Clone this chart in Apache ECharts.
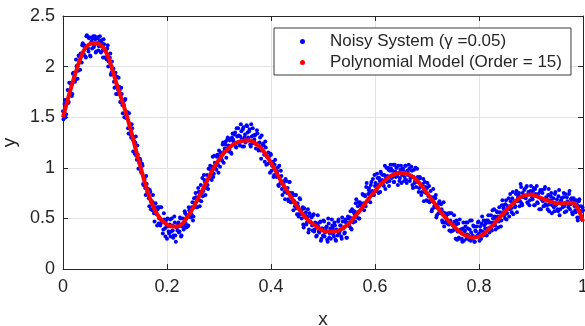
<!DOCTYPE html>
<html><head><meta charset="utf-8">
<script src="https://cdn.jsdelivr.net/npm/echarts/dist/echarts.min.js"></script>
<style>html,body{margin:0;padding:0;background:#fff}#c{width:585px;height:326px}</style>
</head><body><div id="c"></div>
<script>
// Axis settings
const xMin = 0, xMax = 1, xStep = 0.2;
const yMin = 0, yMax = 2.5, yStep = 0.5;
const noisyName = 'Noisy System (\u03b3 =0.05)';
const modelName = 'Polynomial Model (Order = 15)';

// Polynomial model values, x = 0, 0.01, ..., 1
const modelY = [
1.50,1.69,1.87,2.03,2.16,2.22,2.23,2.22,2.17,2.05,
1.88,1.72,1.56,1.38,1.18,0.99,0.81,0.66,0.55,0.48,
0.44,0.42,0.42,0.45,0.52,0.60,0.70,0.80,0.90,1.00,
1.08,1.15,1.20,1.24,1.26,1.27,1.27,1.24,1.20,1.13,
1.05,0.96,0.86,0.78,0.70,0.62,0.55,0.49,0.45,0.41,
0.38,0.37,0.37,0.38,0.41,0.45,0.51,0.57,0.64,0.71,
0.77,0.83,0.88,0.92,0.94,0.95,0.945,0.92,0.88,0.82,
0.75,0.68,0.61,0.54,0.48,0.43,0.38,0.34,0.32,0.31,
0.32,0.35,0.40,0.45,0.51,0.57,0.62,0.67,0.71,0.73,
0.735,0.72,0.70,0.68,0.66,0.65,0.65,0.655,0.655,0.60,
0.47];

// Noisy measurements A, x = 0, 0.002, ..., 1
const noisyY = [
1.56,1.51,1.67,1.53,1.66, 1.64,1.84,1.74,1.84,1.73, 1.94,1.90,1.87,2.00,1.88, 2.11,2.05,2.13,2.04,2.23,
2.12,2.19,2.09,2.31,2.18, 2.28,2.11,2.23,2.18,2.30, 2.21,2.27,2.15,2.29,2.16, 2.25,2.20,2.26,2.16,2.27,
2.09,2.16,2.07,2.21,2.05, 2.09,1.92,2.05,1.95,1.85, 1.91,1.73,1.90,1.77,1.80, 1.65,1.79,1.62,1.64,1.50,
1.68,1.49,1.55,1.34,1.43, 1.33,1.43,1.28,1.30,1.14, 1.31,1.08,1.13,1.06,1.09, 0.96,1.04,0.84,0.89,0.80,
0.92,0.76,0.79,0.62,0.76, 0.66,0.58,0.65,0.47,0.65, 0.54,0.59,0.45,0.61,0.45, 0.47,0.35,0.55,0.40,0.48,
0.30,0.42,0.35,0.49,0.37, 0.43,0.31,0.52,0.33,0.42, 0.38,0.46,0.37,0.50,0.33, 0.44,0.39,0.57,0.45,0.53,
0.42,0.61,0.55,0.51,0.61, 0.48,0.70,0.63,0.71,0.61, 0.80,0.68,0.76,0.67,0.90, 0.77,0.88,0.73,0.87,0.83,
0.99,0.90,0.98,0.88,1.11, 0.94,1.05,1.02,1.11,1.03, 1.17,1.01,1.12,1.07,1.25, 1.16,1.23,1.10,1.28,1.22,
1.18,1.28,1.14,1.34,1.26, 1.33,1.21,1.39,1.25,1.32, 1.22,1.43,1.28,1.38,1.21, 1.33,1.27,1.41,1.30,1.36,
1.23,1.43,1.24,1.32,1.28, 1.33,1.23,1.34,1.17,1.25, 1.17,1.32,1.17,1.22,1.06, 1.20,1.11,1.04,1.11,0.95,
1.13,1.02,1.06,0.93,1.08, 0.92,0.96,0.83,1.02,0.85, 0.92,0.73,0.84,0.76,0.89, 0.76,0.80,0.67,0.86,0.66,
0.73,0.67,0.73,0.62,0.73, 0.54,0.62,0.54,0.69,0.54, 0.59,0.44,0.60,0.51,0.44, 0.52,0.36,0.55,0.46,0.51,
0.38,0.54,0.39,0.45,0.33, 0.53,0.37,0.46,0.28,0.40, 0.33,0.47,0.36,0.41,0.29, 0.50,0.31,0.40,0.36,0.43,
0.34,0.46,0.29,0.39,0.33, 0.49,0.37,0.43,0.30,0.47, 0.41,0.36,0.46,0.31,0.52, 0.44,0.51,0.40,0.59,0.46,
0.57,0.47,0.69,0.56,0.66, 0.50,0.63,0.59,0.74,0.65, 0.73,0.62,0.85,0.67,0.78, 0.75,0.83,0.75,0.89,0.73,
0.82,0.77,0.94,0.83,0.90, 0.76,0.94,0.88,0.83,0.93, 0.79,1.00,0.92,0.98,0.87, 1.03,0.90,0.97,0.86,1.03,
0.91,1.00,0.83,0.95,0.90, 1.02,0.93,0.99,0.87,1.02, 0.88,0.97,0.93,0.99,0.90, 1.01,0.83,0.91,0.85,1.00,
0.86,0.91,0.76,0.91,0.83, 0.76,0.84,0.67,0.86,0.75, 0.80,0.67,0.82,0.67,0.71, 0.59,0.79,0.62,0.70,0.51,
0.62,0.55,0.67,0.55,0.59, 0.46,0.66,0.46,0.53,0.48, 0.54,0.44,0.55,0.37,0.45, 0.38,0.53,0.39,0.44,0.29,
0.45,0.37,0.30,0.39,0.27, 0.46,0.37,0.42,0.30,0.46, 0.33,0.39,0.28,0.48,0.33, 0.42,0.27,0.37,0.32,0.46,
0.35,0.42,0.30,0.52,0.33, 0.43,0.40,0.48,0.40,0.53, 0.36,0.46,0.41,0.58,0.46, 0.52,0.39,0.57,0.52,0.47,
0.56,0.42,0.63,0.56,0.63, 0.50,0.68,0.55,0.62,0.52, 0.74,0.60,0.70,0.54,0.67, 0.62,0.77,0.67,0.73,0.62,
0.84,0.65,0.75,0.71,0.79, 0.70,0.82,0.65,0.74,0.68, 0.82,0.71,0.77,0.63,0.79, 0.72,0.66,0.74,0.59,0.78,
0.69,0.75,0.62,0.79,0.64, 0.70,0.59,0.79,0.64,0.72, 0.55,0.66,0.61,0.74,0.63, 0.69,0.57,0.78,0.59,0.68,
0.64,0.71,0.62,0.74,0.57, 0.67,0.61,0.77,0.64,0.70, 0.54,0.70,0.62,0.56,0.64, 0.48,0.67,0.57,0.62,0.49,
0.58];

// Noisy measurements B, x = 0.001, 0.003, ..., 0.999
const noisyY2 = [
1.48,1.63,1.50,1.65,1.77, 1.65,1.74,1.83,1.71,1.93, 1.87,1.85,2.07,2.01,1.96, 2.10,1.97,2.11,2.21,2.12,
2.21,2.10,2.30,2.19,2.15, 2.29,2.10,2.25,2.28,2.19, 2.30,2.14,2.23,2.28,2.20, 2.30,2.14,2.23,2.09,2.22,
2.17,2.09,2.18,2.00,2.08, 2.13,1.94,1.97,1.98,1.79, 1.94,1.81,1.73,1.89,1.77, 1.65,1.73,1.54,1.62,1.67,
1.51,1.55,1.39,1.54,1.39, 1.30,1.39,1.16,1.26,1.25, 1.12,1.22,0.99,1.05,1.07, 0.95,1.02,0.83,0.89,0.73,
0.84,0.78,0.70,0.78,0.59, 0.67,0.73,0.55,0.58,0.61, 0.43,0.61,0.50,0.43,0.61, 0.48,0.39,0.49,0.32,0.42,
0.50,0.37,0.44,0.32,0.50, 0.38,0.33,0.46,0.27,0.41, 0.44,0.36,0.51,0.32,0.42, 0.50,0.43,0.55,0.41,0.52,
0.43,0.58,0.57,0.54,0.66, 0.52,0.65,0.75,0.61,0.69, 0.76,0.62,0.83,0.75,0.72, 0.93,0.86,0.80,0.93,0.79,
0.92,1.02,0.92,1.01,0.91, 1.12,1.01,0.98,1.13,0.95, 1.11,1.15,1.08,1.23,1.05, 1.19,1.26,1.19,1.30,1.16,
1.27,1.15,1.30,1.28,1.24, 1.35,1.20,1.31,1.39,1.24, 1.31,1.36,1.21,1.40,1.30, 1.25,1.42,1.35,1.27,1.38,
1.21,1.31,1.39,1.26,1.32, 1.19,1.37,1.24,1.18,1.30, 1.09,1.22,1.24,1.13,1.26, 1.03,1.11,1.15,1.05,1.14,
0.97,1.05,0.91,1.03,0.98, 0.91,1.00,0.82,0.91,0.97, 0.79,0.84,0.87,0.69,0.87, 0.75,0.69,0.86,0.75,0.66,
0.75,0.58,0.67,0.73,0.60, 0.65,0.52,0.70,0.56,0.50, 0.61,0.41,0.54,0.56,0.46, 0.59,0.39,0.47,0.52,0.43,
0.53,0.37,0.46,0.32,0.45, 0.42,0.36,0.47,0.30,0.40, 0.48,0.32,0.38,0.42,0.27, 0.45,0.35,0.30,0.49,0.40,
0.32,0.43,0.28,0.38,0.47, 0.35,0.43,0.32,0.51,0.40, 0.35,0.49,0.31,0.46,0.50, 0.42,0.57,0.39,0.49,0.56,
0.54,0.65,0.51,0.62,0.50, 0.66,0.64,0.61,0.73,0.58, 0.72,0.81,0.67,0.74,0.80, 0.66,0.86,0.77,0.73,0.93,
0.85,0.78,0.90,0.75,0.87, 0.96,0.85,0.93,0.82,1.02, 0.90,0.86,1.00,0.82,0.97, 0.99,0.91,1.03,0.86,0.96,
1.00,0.92,1.02,0.87,0.98, 0.85,0.99,0.96,0.91,1.02, 0.85,0.96,1.03,0.87,0.92, 0.97,0.80,0.98,0.87,0.81,
0.99,0.89,0.80,0.90,0.73, 0.82,0.89,0.76,0.81,0.68, 0.85,0.72,0.66,0.77,0.57, 0.69,0.71,0.61,0.73,0.53,
0.60,0.65,0.56,0.64,0.48, 0.56,0.42,0.55,0.51,0.45, 0.55,0.38,0.48,0.55,0.38, 0.43,0.47,0.30,0.48,0.37,
0.31,0.49,0.39,0.30,0.40, 0.28,0.38,0.46,0.34,0.40, 0.29,0.48,0.36,0.30,0.43, 0.27,0.38,0.42,0.33,0.47,
0.28,0.38,0.45,0.37,0.48, 0.34,0.45,0.33,0.48,0.46, 0.41,0.53,0.38,0.50,0.59, 0.43,0.50,0.56,0.41,0.61,
0.52,0.48,0.68,0.60,0.53, 0.64,0.49,0.61,0.70,0.59, 0.67,0.56,0.76,0.65,0.61, 0.74,0.56,0.71,0.75,0.67,
0.81,0.63,0.72,0.78,0.71, 0.81,0.66,0.76,0.63,0.77, 0.74,0.69,0.80,0.63,0.74, 0.82,0.65,0.71,0.76,0.59,
0.78,0.67,0.62,0.81,0.71, 0.63,0.73,0.57,0.68,0.75, 0.63,0.70,0.57,0.76,0.64, 0.59,0.72,0.53,0.67,0.70,
0.61,0.75,0.56,0.65,0.71, 0.64,0.74,0.59,0.69,0.56, 0.68,0.64,0.58,0.68,0.51, 0.62,0.69,0.52,0.57,0.61];

const noisyData = noisyY.map((v, i) => [xMin + (xMax - xMin) * i / (noisyY.length - 1), v])
  .concat(noisyY2.map((v, i) => [xMin + (xMax - xMin) * (i + 0.5) / noisyY2.length, v]));
const modelData = modelY.map((v, i) => [xMin + (xMax - xMin) * i / (modelY.length - 1), v]);

const ink = '#262626';
const font = 'Liberation Sans, Arial, Helvetica, sans-serif';
function axisBase(extra) {
  return Object.assign({
    type: 'value',
    axisLine: { show: true, onZero: false, lineStyle: { color: ink, width: 1 } },
    axisTick: { show: true, inside: true, length: 5, lineStyle: { color: ink } },
    splitLine: { show: false },
    axisLabel: { show: false }
  }, extra);
}

const chart = echarts.init(document.getElementById('c'), null, { renderer: 'canvas' });
chart.setOption({
  animation: false,
  backgroundColor: '#ffffff',
  textStyle: { fontFamily: font },
  grid: { left: 63, right: 2, top: 16, bottom: 57, containLabel: false, outerBoundsMode: 'none' },
  legend: {
    orient: 'vertical',
    left: 274, top: 28,
    padding: [5, 9, 4, 26],
    itemGap: 4,
    itemWidth: 45, itemHeight: 5,
    backgroundColor: '#ffffff',
    borderColor: '#3a3a3a', borderWidth: 1, borderRadius: 0,
    textStyle: { fontSize: 17, color: ink, fontFamily: font },
    data: [
      { name: noisyName, icon: 'circle', itemStyle: { color: '#0000ff' } },
      { name: modelName, icon: 'circle', itemStyle: { color: '#ff0000' } }
    ]
  },
  xAxis: [
    axisBase({
      position: 'bottom', min: xMin, max: xMax, interval: xStep,
      splitLine: { show: true, lineStyle: { color: '#e3e3e3', width: 1 } },
      axisLabel: { show: true, fontSize: 18, color: ink, margin: 9, fontFamily: font },
      name: 'x', nameLocation: 'middle', nameGap: 41,
      nameTextStyle: { fontSize: 19, color: ink, fontFamily: font }
    }),
    axisBase({ position: 'top', min: xMin, max: xMax, interval: xStep })
  ],
  yAxis: [
    axisBase({
      position: 'left', min: yMin, max: yMax, interval: yStep,
      splitLine: { show: true, lineStyle: { color: '#e3e3e3', width: 1 } },
      axisLabel: { show: true, fontSize: 18, color: ink, margin: 8, fontFamily: font },
      name: 'y', nameLocation: 'middle', nameGap: 29, nameRotate: 90,
      nameTextStyle: { fontSize: 19, color: ink, fontFamily: font }
    }),
    axisBase({ position: 'right', min: yMin, max: yMax, interval: yStep })
  ],
  series: [
    {
      name: noisyName, type: 'scatter', xAxisIndex: 0, yAxisIndex: 0,
      data: noisyData, symbol: 'circle', symbolSize: 4,
      itemStyle: { color: '#0000ff', opacity: 1 }, z: 2
    },
    {
      name: modelName, type: 'line', xAxisIndex: 0, yAxisIndex: 0,
      data: modelData, smooth: 0.4, showSymbol: false, symbol: 'none',
      lineStyle: { color: '#ff0000', width: 4 },
      itemStyle: { color: '#ff0000' }, z: 3
    }
  ]
});
</script>
</body></html>
